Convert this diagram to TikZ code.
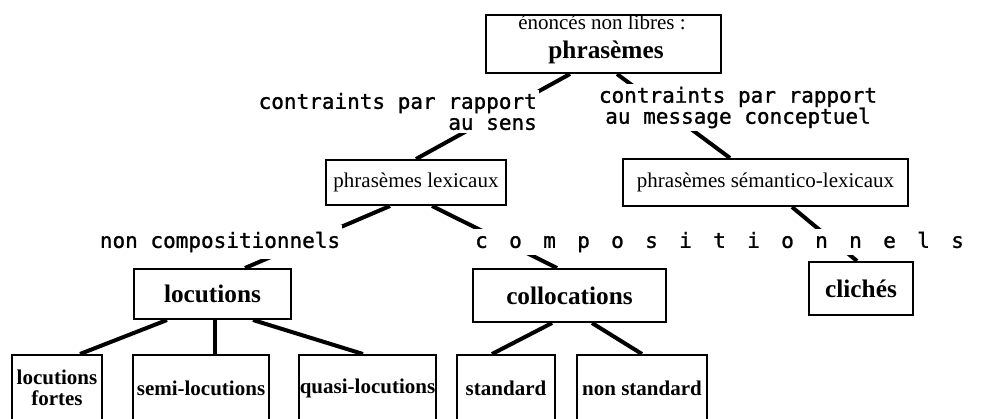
\documentclass[tikz,border=0pt]{standalone}
\usepackage{fontspec}
\setmainfont{Liberation Serif}
\newfontfamily\monofont[FakeBold=1.2]{DejaVu Sans Mono}
\usetikzlibrary{calc}
\newcommand{\lsp}{\hspace{21.36pt}}

\begin{document}
\begin{tikzpicture}[x=1pt,y=-1pt,
	box/.style={draw, line width=2pt, inner sep=0pt, font=\fontsize{21}{21}\selectfont},
	bigbox/.style={box, font=\fontsize{25.3}{28}\selectfont\bfseries},
	leaf/.style={box, minimum width=#1, minimum height=66pt, align=center, font=\fontsize{21}{21}\selectfont\bfseries},
	lbl/.style={fill=white, inner xsep=2pt, inner ysep=3pt, font=\monofont\fontsize{21}{21}\selectfont},
	link/.style={line width=4pt}]
		\useasboundingbox (0,0) rectangle (984,418);
		\node[box, minimum width=235pt, minimum height=58pt] (top) at (603.5,44) {};
		\node[anchor=base, inner sep=0pt, font=\fontsize{21}{21}\selectfont] (topa) at (602,29) {énoncés non libres :};
		\node[anchor=base, inner sep=0pt, font=\fontsize{25.3}{28}\selectfont\bfseries] (topb) at (606,58) {phrasèmes};
		\node[box, minimum width=180pt, minimum height=45pt] (lex) at (416,182.5) {phrasèmes lexicaux};
		\node[box, minimum width=285pt, minimum height=47pt] (sem) at (765.5,182.5) {phrasèmes sémantico-lexicaux};
		\node[bigbox, minimum width=157pt, minimum height=50pt] (loc) at (212.5,294) {locutions};
		\node[bigbox, minimum width=193pt, minimum height=53pt] (coll) at (569.5,295.5) {collocations};
		\node[bigbox, minimum width=104pt, minimum height=53pt] (cli) at (861,288.5) {clichés};
		\node[leaf=90pt] (fortes) at (57,388) {locutions\\fortes};
		\node[leaf=136pt] (semi) at (201,388) {semi-locutions};
		\node[leaf=137pt] (quasi) at (367.5,388) {quasi-locutions};
		\node[leaf=98pt] (std) at (506,388) {standard};
		\node[leaf=130pt] (nonstd) at (642,388) {non standard};
		\draw[link] ($(top.south)+(-33.5,0)$) -- (lex.north);
		\draw[link] ($(top.south)+(13.5,0)$) -- ($(sem.north)+(-35.5,0)$);
		\draw[link] ($(lex.south)+(-26,0)$) -- ($(loc.north)+(32.5,0)$);
		\draw[link] ($(lex.south)+(16,0)$) -- ($(coll.north)+(-12.5,0)$);
		\draw[link] ($(sem.south)+(26.5,0)$) -- ($(cli.north)+(-4,0)$);
		\draw[link] ($(loc.south)+(-45.5,0)$) -- ($(fortes.north)+(23,0)$);
		\draw[link] ($(loc.south)+(2.5,0)$) -- ($(semi.north)+(14,0)$);
		\draw[link] ($(loc.south)+(40.5,0)$) -- ($(quasi.north)+(-4.5,0)$);
		\draw[link] ($(coll.south)+(-17.5,0)$) -- ($(std.north)+(-14,0)$);
		\draw[link] ($(coll.south)+(22.5,0)$) -- (nonstd.north);
	% labels cover the links
		\node[lbl, align=right, anchor=east] (sens) at (539,111.5) {contraints par rapport\\au sens};
		\node[lbl, align=center] (msg) at (738,107.5) {contraints par rapport\\au message conceptuel};
		\node[lbl, inner ysep=7pt] (noncomp) at (220,242) {non compositionnels};
		\node[lbl, anchor=west] (comp) at (473,242) {c\lsp o\lsp m\lsp p\lsp o\lsp s\lsp i\lsp t\lsp i\lsp o\lsp n\lsp n\lsp e\lsp l\lsp s};
	\end{tikzpicture}
\end{document}
